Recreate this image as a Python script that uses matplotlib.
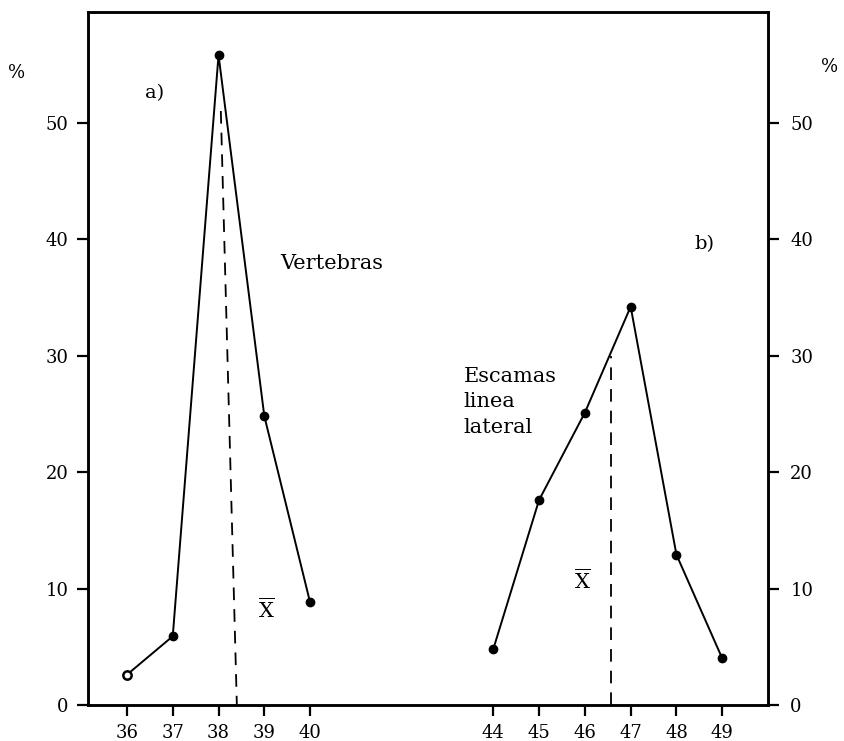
import matplotlib.pyplot as plt

# a) vertebras
vert_x = [36, 37, 38, 39, 40]
vert_pct = [2.6, 5.9, 55.8, 24.8, 8.8]
vert_mean = 38.4

# b) escamas linea lateral
esc_x = [44, 45, 46, 47, 48, 49]
esc_pct = [4.8, 17.6, 25.1, 34.2, 12.9, 4.0]
esc_mean = 46.57
esc_mean_top = 30.0

x_ticks = [36, 37, 38, 39, 40, 44, 45, 46, 47, 48, 49]
y_ticks = [0, 10, 20, 30, 40, 50]

FONT = "DejaVu Serif"
plt.rcParams["mathtext.fontset"] = "dejavuserif"


def main() -> None:
    fig = plt.figure(figsize=(8.44, 7.41), dpi=100)
    ax = fig.add_axes([0.1043, 0.0486, 0.8057, 0.9352])
    ax.set_xlim(35.15, 50.0)
    ax.set_ylim(0, 59.5)

    ax.plot(vert_x[1:], vert_pct[1:], color="black", linewidth=1.4,
            marker="o", markersize=6)
    ax.plot(vert_x[:2], vert_pct[:2], color="black", linewidth=1.4)
    ax.plot(vert_x[0], vert_pct[0], marker="o", markersize=6,
            markerfacecolor="white", markeredgecolor="black", markeredgewidth=1.8)
    ax.plot(esc_x, esc_pct, color="black", linewidth=1.4,
            marker="o", markersize=6)

    # mean lines (the one in a) leans a little, as in the scanned figure)
    ax.plot([vert_mean - 0.35, vert_mean], [51, 0], color="black", linewidth=1.3,
            linestyle=(0, (7, 5)))
    ax.plot([esc_mean, esc_mean], [0, esc_mean_top], color="black",
            linewidth=1.3, linestyle=(0, (7, 5)))

    ax.set_xticks(x_ticks)
    ax.set_xticklabels([str(v) for v in x_ticks], family=FONT, fontsize=13)
    ax.set_yticks(y_ticks)
    ax.set_yticklabels([str(v) for v in y_ticks], family=FONT, fontsize=13)
    ax.tick_params(axis="both", direction="out", length=8, width=1.6,
                   color="black", pad=6)

    ax_r = ax.twinx()
    ax_r.set_ylim(0, 59.5)
    ax_r.set_yticks(y_ticks)
    ax_r.set_yticklabels([str(v) for v in y_ticks], family=FONT, fontsize=13)
    ax_r.tick_params(axis="y", direction="out", length=8, width=1.6, pad=8)

    for a in (ax, ax_r):
        for spine in a.spines.values():
            spine.set_linewidth(1.8)

    ax.text(36.4, 52.5, "a)", family=FONT, fontsize=14, va="center")
    ax.text(48.4, 39.6, "b)", family=FONT, fontsize=14, va="center")
    ax.text(39.35, 37.9, "Vertebras", family=FONT, fontsize=15, va="center")
    ax.text(43.35, 23.0, "Escamas\nlinea\nlateral", family=FONT, fontsize=15,
            linespacing=1.45, va="bottom")
    ax.text(39.05, 8.2, r"$\overline{\mathrm{X}}$", fontsize=15, ha="center", va="center")
    ax.text(45.95, 10.7, r"$\overline{\mathrm{X}}$", fontsize=15, ha="center", va="center")

    fig.text(0.009, 0.895, "%", family=FONT, fontsize=13)
    fig.text(0.973, 0.903, "%", family=FONT, fontsize=13)

    fig.savefig("out.png", dpi=100)


if __name__ == "__main__":
    main()
